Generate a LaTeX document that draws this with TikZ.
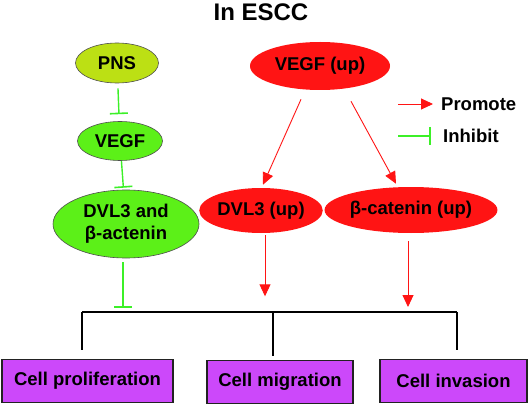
\documentclass[tikz,border=0pt]{standalone}
\usepackage{fontspec}
\setmainfont{Liberation Sans}
\usepackage{xcolor}
\usetikzlibrary{
    shapes.geometric,
    arrows.meta,
    positioning,
    calc
}
\definecolor{upred}{HTML}{FF1414}
\definecolor{lime}{HTML}{5CF018}
\definecolor{olive}{HTML}{BCE014}
\definecolor{inhib}{HTML}{3CF028}
\definecolor{violet}{HTML}{CC48FA}
\definecolor{dark}{HTML}{222222}
\tikzset{
    % Ellipse for a factor
    factor/.style={
        ellipse,
        inner sep=0pt,
        align=center,
        font=\fontsize{18.5}{22}\selectfont\bfseries,
        fill=#1,
        draw=dark!80,
        line width=0.6pt
    },
    % Red ellipse (up-regulated)
    upfactor/.style={
        factor=upred,
        draw=none
    },
    % Outcome box style
    cellbox/.style={
        rectangle,
        minimum height=43pt,
        align=center,
        font=\fontsize{18.5}{22}\selectfont\bfseries,
        draw=dark,
        fill=violet,
        line width=1.2pt
    },
    % Arrow styles
    promote/.style={
        -{Triangle[length=12pt, width=11pt]},
        line width=0.9pt,
        color=upred
    },
    inhibit/.style={
        -{Bar[width=18pt, line width=1.6pt]},
        line width=1.4pt,
        color=inhib
    },
    bracket/.style={
        line width=1.5pt,
        color=black
    },
    % Label style
    legend text/.style={
        font=\fontsize{18.5}{22}\selectfont\bfseries,
        anchor=west,
        inner sep=0pt
    }
}

\begin{document}
\begin{tikzpicture}[x=1pt, y=-1pt]
    \useasboundingbox (0,0) rectangle (529,406);

    % Title
    \node[font=\fontsize{24}{28}\selectfont\bfseries] (title) at (261,12) {In ESCC};

    % Left (green) branch
    \node[factor=olive, minimum width=83pt, minimum height=40pt] (pns) at (117,63) {PNS};
    \node[factor=lime, minimum width=85pt, minimum height=39pt] (vegf) at (120,141) {VEGF};
    \node[factor=lime, minimum width=146pt, minimum height=68pt] (dvland) at (126,224) {DVL3 and\\β-actenin};

    % Right (red) branch
    \node[upfactor, minimum width=140pt, minimum height=48pt] (vegfup) at (320,66) {VEGF (up)};
    \node[upfactor, minimum width=116pt, minimum height=45pt] (dvlup) at (261,210.5) {DVL3 (up)};
    \node[upfactor, minimum width=142pt, minimum height=46pt] (betaup) at (411,210) {β-catenin (up)};

    % Outcomes
    \node[cellbox, minimum width=171pt] (prolif) at (87.5,381) {Cell proliferation};
    \node[cellbox, minimum width=146pt] (migr) at (280,382) {Cell migration};
    \node[cellbox, minimum width=147pt] (invas) at (453.5,381) {Cell invasion};

    % Legend
    \node[legend text] (promotelbl) at (441,104) {Promote};
    \node[legend text] (inhibitlbl) at (443,136) {Inhibit};
    \draw[promote] ([xshift=-43pt]promotelbl.west) -- ([xshift=-8pt]promotelbl.west);
    \draw[inhibit] ([xshift=-45pt]inhibitlbl.west) -- ([xshift=-12pt]inhibitlbl.west);

    % Bracket to the outcomes
    \coordinate (barL) at (82,312);
    \coordinate (barM) at (273,312);
    \coordinate (barR) at (457,312);
    \draw[bracket] (barL) -- (barR);
    \draw[bracket, shorten >=9pt] (barL) -- (barL |- prolif.north);
    \draw[bracket, shorten >=4pt] (barM) -- (barM |- migr.north);
    \draw[bracket, shorten >=9pt] (barR) -- (barR |- invas.north);

    % Inhibition
    \draw[inhibit, shorten <=5pt, shorten >=7pt] (pns) -- (vegf);
    \draw[inhibit, shorten >=2pt] (vegf) -- (dvland);
    \draw[inhibit, shorten <=4pt, shorten >=4pt] ([xshift=-3pt]dvland.south) -- ([xshift=-3pt]dvland.south |- barL);

    % Promotion
    \draw[promote] ([xshift=-19pt, yshift=-9pt]vegfup.south) -- ([xshift=2pt, yshift=3pt]dvlup.north);
    \draw[promote] ([xshift=31pt, yshift=-11pt]vegfup.south) -- ([xshift=-15pt, yshift=3pt]betaup.north);
    \draw[promote, shorten <=2pt, shorten >=14pt] (dvlup.south -| barM) ++(-8,0) -- ++(0,77);
    \draw[promote, shorten <=8pt, shorten >=5pt] ([xshift=-3pt]betaup.south) -- ([xshift=-3pt]betaup.south |- barL);
\end{tikzpicture}
\end{document}
